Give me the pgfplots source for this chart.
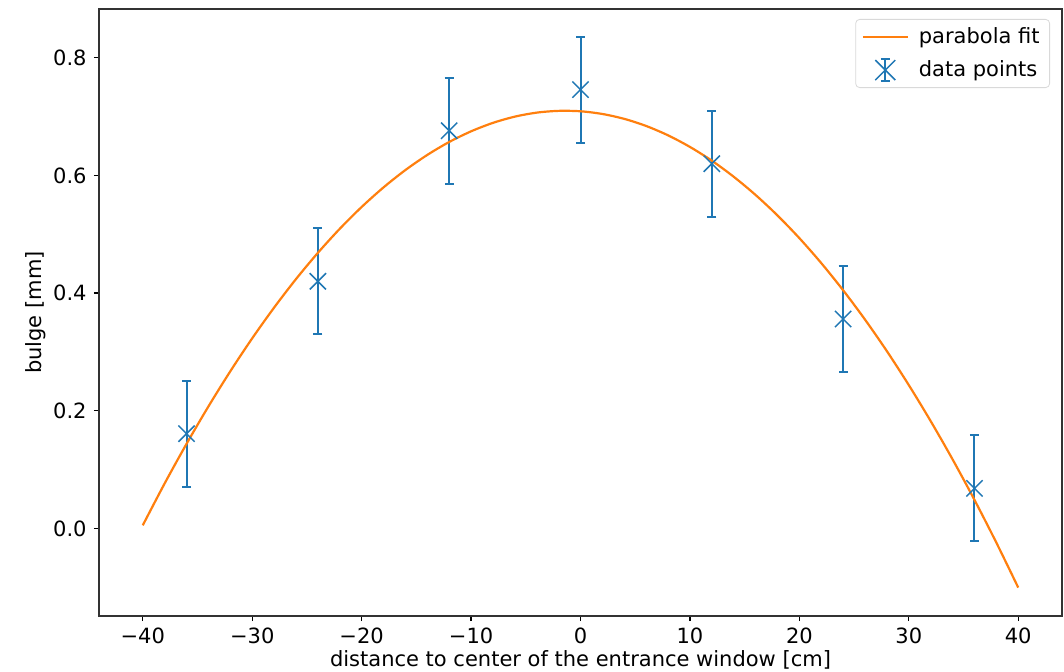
\documentclass[border=0pt]{standalone}
\usepackage{fontspec}
\setmainfont{DejaVu Sans}
\usepackage{pgfplots}
\pgfplotsset{compat=1.18}
\definecolor{mplblue}{HTML}{1F77B4}
\definecolor{mplorange}{HTML}{FF7F0E}
\begin{document}
\fontsize{10.5pt}{12.6pt}\selectfont
\begin{tikzpicture}
\begin{axis}[
  width=481.5pt, height=303.5pt, scale only axis,
  xmin=-44, xmax=44, ymin=-0.149, ymax=0.883,
  xtick={-40,-30,-20,-10,0,10,20,30,40},
  xticklabels={−40,−30,−20,−10,0,10,20,30,40},
  ytick={0,0.2,0.4,0.6,0.8},
  yticklabels={0.0,0.2,0.4,0.6,0.8},
  xtick pos=left, ytick pos=left,
  tick align=outside, major tick length=2.5pt,
  tick style={black, line width=0.6pt},
  axis line style={black!80, line width=0.6pt},
  xlabel={distance to center of the entrance window [cm]},
  ylabel={bulge [mm]},
  xlabel shift=-4pt, ylabel shift=-3.5pt,
  legend cell align=left,
  legend style={at={(rel axis cs:1,1)}, anchor=north east, xshift=-6pt, yshift=-5pt,
    draw=black!15, rounded corners=2pt, inner xsep=3pt, inner ysep=2pt, row sep=3pt,
    /tikz/every odd column/.append style={column sep=3pt}},
]
% measured points with errors
\addplot[forget plot, only marks, mplblue, mark=x, mark size=5.75pt,
  mark options={line width=0.75pt},
  error bars/.cd, y dir=both, y explicit,
  error bar style={line width=1pt, mplblue},
  error mark options={rotate=90, mark size=2.25pt, line width=1pt, mplblue}]
  coordinates {
  (-36,0.161) +- (0,0.090)
  (-24,0.420) +- (0,0.090)
  (-12,0.676) +- (0,0.090)
  (0,0.746) +- (0,0.090)
  (12,0.620) +- (0,0.090)
  (24,0.356) +- (0,0.090)
  (36,0.068) +- (0,0.090)
  };
% fitted curve
\addplot[mplorange, line width=1.1pt, no marks, smooth,
  legend image code/.code={\draw[mplorange, line width=1.1pt] (0pt,0pt) -- (22.5pt,0pt);}]
  coordinates {
  (-40,0.0052) (-38,0.0764) (-36,0.1437) (-34,0.2073) (-32,0.2671)
  (-30,0.3231) (-28,0.3753) (-26,0.4238) (-24,0.4684) (-22,0.5093)
  (-20,0.5464) (-18,0.5797) (-16,0.6092) (-14,0.6349) (-12,0.6569)
  (-10,0.6750) (-8,0.6894) (-6,0.7000) (-4,0.7068) (-2,0.7098)
  (0,0.7091) (2,0.7045) (4,0.6962) (6,0.6841) (8,0.6682)
  (10,0.6485) (12,0.6251) (14,0.5978) (16,0.5668) (18,0.5320)
  (20,0.4934) (22,0.4510) (24,0.4048) (26,0.3549) (28,0.3012)
  (30,0.2436) (32,0.1823) (34,0.1173) (36,0.0484) (38,-0.0243)
  (40,-0.1007)
  };
\addlegendentry{parabola fit}
\addlegendimage{legend image code/.code={
  \draw[mplblue, line width=1pt] (11.25pt,-5.5pt) -- (11.25pt,5.5pt);
  \draw[mplblue, line width=1pt] (9pt,-5.5pt) -- (13.5pt,-5.5pt);
  \draw[mplblue, line width=1pt] (9pt,5.5pt) -- (13.5pt,5.5pt);
  \draw[mplblue, line width=0.75pt] (6.25pt,-5pt) -- (16.25pt,5pt) (6.25pt,5pt) -- (16.25pt,-5pt);
}}
\addlegendentry{data points}
\coordinate (bl) at (rel axis cs:0,0);
\coordinate (tr) at (rel axis cs:1,1);
\end{axis}
\pgfresetboundingbox
\useasboundingbox ([shift={(-49.5pt,-27.5pt)}]bl) rectangle ([shift={(1pt,4.5pt)}]tr);
\end{tikzpicture}
\end{document}
